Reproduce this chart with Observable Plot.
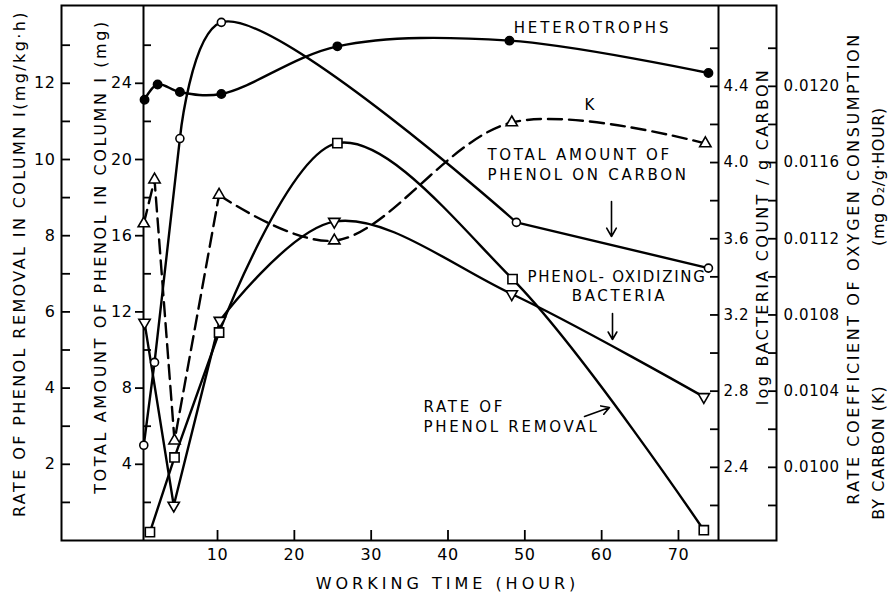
<!DOCTYPE html>
<html><head><meta charset="utf-8">
<script src="https://cdn.jsdelivr.net/npm/d3@7"></script>
<script src="https://cdn.jsdelivr.net/npm/@observablehq/plot@0.6"></script>
<style>body{margin:0;background:#fff} #chart svg{display:block}</style>
</head><body><div id="chart"></div>
<script>
// ---------- data ----------
const hetHours   = [0.5, 2.2, 5.1, 10.5, 25.6, 48.0, 73.9];
const hetLog     = [4.33, 4.41, 4.37, 4.36, 4.61, 4.64, 4.47];
const phenolHours = [0.4, 1.8, 5.1, 10.5, 48.9, 73.9];
const phenolMg    = [5.0, 9.35, 21.1, 27.2, 16.7, 14.3];
const oxHours = [0.5, 4.3, 10.3, 25.2, 48.3, 73.3];
const oxLog   = [3.16, 2.20, 3.17, 3.69, 3.31, 2.77];
const kHours  = [0.4, 1.8, 4.4, 10.2, 25.2, 48.3, 73.5];
const kValues = [0.01128, 0.01151, 0.01014, 0.01143, 0.01119, 0.01181, 0.01170];
const rateHours  = [1.2, 4.4, 10.2, 25.6, 48.4, 73.3];
const rateValues = [0.22, 2.18, 5.46, 10.43, 6.86, 0.27];

const timeTicks = [10, 20, 30, 40, 50, 60, 70];
const rateTicks = [2, 4, 6, 8, 10, 12];
const rateMinor = [1, 3, 5, 7, 9, 11, 13];
const mgTicks = [4, 8, 12, 16, 20, 24];
const mgMinor = [2, 6, 10, 14, 18, 22, 26];
const logTicks = [2.4, 2.8, 3.2, 3.6, 4.0, 4.4];
const logMinor = [2.2, 2.6, 3.0, 3.4, 3.8, 4.2, 4.6];
const kTicks = [0.0100, 0.0104, 0.0108, 0.0112, 0.0116, 0.0120];
const kMinor = [0.0098, 0.0102, 0.0106, 0.0110, 0.0114, 0.0118, 0.0122];

const axisTitles = {
  rate: "RATE OF PHENOL REMOVAL IN COLUMN I(mg/kg·h)",
  mg: "TOTAL AMOUNT OF PHENOL IN COLUMN I (mg)",
  log: "log BACTERIA COUNT / g CARBON",
  k1: "RATE COEFFICIENT OF OXYGEN CONSUMPTION",
  k2a: "BY CARBON (K)",
  k2b: "(mg O₂/g·HOUR)",
  time: "WORKING TIME (HOUR)"
};
const notes = {
  het: "HETEROTROPHS",
  k: "K",
  phenol: ["TOTAL AMOUNT OF", "PHENOL ON CARBON"],
  ox1: "PHENOL- OXIDIZING",
  ox2: "BACTERIA",
  rate: ["RATE OF", "PHENOL REMOVAL"]
};

// ---------- scales shared by all series (y is the rate axis) ----------
const fromRate = v => v;
const fromMg = v => v / 2;
const fromLog = v => 1.92 + (v - 2.4) * 5;
const fromK = v => 1.92 + (v - 0.0100) * 5000;

const W = 888, H = 598;
const mL = 61, mR = W - 776, mT = 5, mB = H - 540;
const xDomain = [-10.31, 82.76];
const yDomain = [0, (540 - 5) / 38.1];
// layout helpers (pixel -> data units) for axis furniture and annotations
const hx = px => xDomain[0] + (px - mL) * (xDomain[1] - xDomain[0]) / (W - mL - mR);
const vy = py => (540 - py) * yDomain[1] / (540 - mT);

function rows(hours, vals, conv, i0 = 0, i1 = hours.length - 1) {
  const out = [];
  for (let i = i0; i <= i1; i++) out.push({x: hours[i], y: conv(vals[i])});
  return out;
}

const triDown = {draw(ctx, size) {
  const s3 = Math.sqrt(3);
  const y = -Math.sqrt(size / (s3 * 3));
  ctx.moveTo(0, -y * 2); ctx.lineTo(-s3 * y, y); ctx.lineTo(s3 * y, y); ctx.closePath();
}};

const LW = 2.4;
const lineOpts = {x: "x", y: "y", stroke: "black", strokeWidth: LW};
const dash = "14,7";
const F = "DejaVu Sans";
const T = (s, o) => Plot.text([s], {text: d => d, fontFamily: F, fontSize: 16, ...o});

const marks = [
  Plot.frame({stroke: "black", strokeWidth: 2}),
  // inner axes
  Plot.ruleX([hx(143), hx(718)], {stroke: "black", strokeWidth: 2}),
  // ticks
  Plot.ruleY(rateTicks.concat(rateMinor), {y: fromRate, x1: hx(61), x2: hx(70), strokeWidth: 1.8}),
  Plot.ruleY(mgTicks, {y: fromMg, x1: hx(135), x2: hx(143), strokeWidth: 1.8}),
  Plot.ruleY(mgMinor, {y: fromMg, x1: hx(143), x2: hx(151), strokeWidth: 1.8}),
  Plot.ruleY(logTicks.concat(logMinor), {y: fromLog, x1: hx(710), x2: hx(718), strokeWidth: 1.8}),
  Plot.ruleY(kTicks.concat(kMinor), {y: fromK, x1: hx(768), x2: hx(776), strokeWidth: 1.8}),
  Plot.ruleX(timeTicks, {x: d => d, y1: 0, y2: vy(530), strokeWidth: 1.8}),
  // tick labels
  Plot.text(rateTicks, {x: hx(55), y: fromRate, text: d => String(d), textAnchor: "end", fontSize: 16, fontFamily: F}),
  Plot.text(mgTicks, {x: hx(132), y: fromMg, text: d => String(d), textAnchor: "end", fontSize: 16, fontFamily: F}),
  Plot.text(logTicks, {x: hx(723), y: fromLog, text: d => d.toFixed(1), textAnchor: "start", fontSize: 15, fontFamily: F}),
  Plot.text(kTicks, {x: hx(783), y: fromK, text: d => d.toFixed(4), textAnchor: "start", fontSize: 15, fontFamily: F}),
  Plot.text(timeTicks, {x: d => d, y: vy(554), text: d => String(d), fontSize: 16, fontFamily: F}),

  // ---- series ----
  Plot.line(rows(hetHours, hetLog, fromLog), {...lineOpts, curve: "catmull-rom"}),
  Plot.line(rows(phenolHours, phenolMg, fromMg, 0, 2), {...lineOpts}),
  Plot.line(rows(phenolHours, phenolMg, fromMg, 2, 4), {...lineOpts, curve: "catmull-rom"}),
  Plot.line(rows(phenolHours, phenolMg, fromMg, 4, 5), {...lineOpts}),
  Plot.line(rows(oxHours, oxLog, fromLog, 0, 2), {...lineOpts}),
  Plot.line(rows(oxHours, oxLog, fromLog, 2, 5), {...lineOpts, curve: "catmull-rom"}),
  Plot.line(rows(kHours, kValues, fromK, 0, 3), {...lineOpts, strokeDasharray: dash}),
  Plot.line(rows(kHours, kValues, fromK, 3, 6), {...lineOpts, strokeDasharray: dash, curve: "catmull-rom"}),
  Plot.line(rows(rateHours, rateValues, fromRate, 0, 2), {...lineOpts}),
  Plot.line(rows(rateHours, rateValues, fromRate, 2, 5), {...lineOpts, curve: "catmull-rom"}),

  // markers
  Plot.dot(rows(hetHours, hetLog, fromLog), {x: "x", y: "y", r: 4.2, fill: "black", stroke: "black"}),
  Plot.dot(rows(phenolHours, phenolMg, fromMg), {x: "x", y: "y", r: 4, fill: "white", stroke: "black", strokeWidth: 1.6}),
  Plot.dot(rows(oxHours, oxLog, fromLog), {x: "x", y: "y", r: 4.2, symbol: triDown, fill: "white", stroke: "black", strokeWidth: 1.6}),
  Plot.dot(rows(kHours, kValues, fromK), {x: "x", y: "y", r: 4.2, symbol: "triangle", fill: "white", stroke: "black", strokeWidth: 1.6}),
  Plot.dot(rows(rateHours, rateValues, fromRate), {x: "x", y: "y", r: 5.2, symbol: "square", fill: "white", stroke: "black", strokeWidth: 1.6}),

  // ---- axis titles ----
  T(axisTitles.rate, {x: hx(19), y: vy(263), rotate: -90}),
  T(axisTitles.mg, {x: hx(100), y: vy(256), rotate: -90}),
  T(axisTitles.log, {x: hx(762), y: vy(236), rotate: -90}),
  T(axisTitles.k1, {x: hx(853), y: vy(268), rotate: -90}),
  T(axisTitles.k2a, {x: hx(878), y: vy(452), rotate: -90}),
  T(axisTitles.k2b, {x: hx(878), y: vy(176), rotate: -90}),
  T(axisTitles.time, {x: hx(447), y: vy(583)}),

  // ---- annotations ----
  T(notes.het, {x: hx(592), y: vy(28), fontSize: 15}),
  T(notes.k, {x: hx(589), y: vy(105), fontSize: 15}),
  Plot.text(notes.phenol, {x: hx(487), y: (d, i) => vy(155 + 20 * i), text: d => d, textAnchor: "start", fontSize: 15, fontFamily: F}),
  T(notes.ox1, {x: hx(527), y: vy(277), textAnchor: "start", fontSize: 15}),
  T(notes.ox2, {x: hx(619), y: vy(296), fontSize: 15}),
  Plot.text(notes.rate, {x: hx(423), y: (d, i) => vy(407 + 20 * i), text: d => d, textAnchor: "start", fontSize: 15, fontFamily: F}),
  Plot.arrow([0], {x1: hx(611), y1: vy(201), x2: hx(611), y2: vy(236), stroke: "black", strokeWidth: 1.6, headLength: 9}),
  Plot.arrow([0], {x1: hx(612), y1: vy(313), x2: hx(612), y2: vy(339), stroke: "black", strokeWidth: 1.6, headLength: 9}),
  Plot.arrow([0], {x1: hx(584), y1: vy(416), x2: hx(609), y2: vy(407), stroke: "black", strokeWidth: 1.6, headLength: 9})
];

const chart = Plot.plot({
  width: W, height: H,
  marginLeft: mL, marginRight: mR, marginTop: mT, marginBottom: mB,
  x: {domain: xDomain, axis: null},
  y: {domain: yDomain, axis: null},
  style: {fontFamily: F, background: "white", color: "black", overflow: "visible"},
  marks
});
document.getElementById("chart").appendChild(chart);

// letter spacing like the original lettering
const spacing = new Map([
  [axisTitles.rate, 2.4], [axisTitles.mg, 2.6], [axisTitles.log, 2.3], [axisTitles.k1, 2.6],
  [axisTitles.k2a, 1.0], [axisTitles.k2b, 0.6], [axisTitles.time, 4.0],
  [notes.het, 2.9], [notes.k, 0], [notes.ox1, 1.7], [notes.ox2, 2.6]
]);
notes.phenol.concat(notes.rate).forEach(s => spacing.set(s, 2.7));
d3.select(chart).selectAll("text").each(function() {
  const s = this.textContent;
  if (spacing.has(s)) this.style.letterSpacing = spacing.get(s) + "px";
  else if (/^[\d.]+$/.test(s)) this.style.letterSpacing = "0.6px";
});
</script>
</body></html>
